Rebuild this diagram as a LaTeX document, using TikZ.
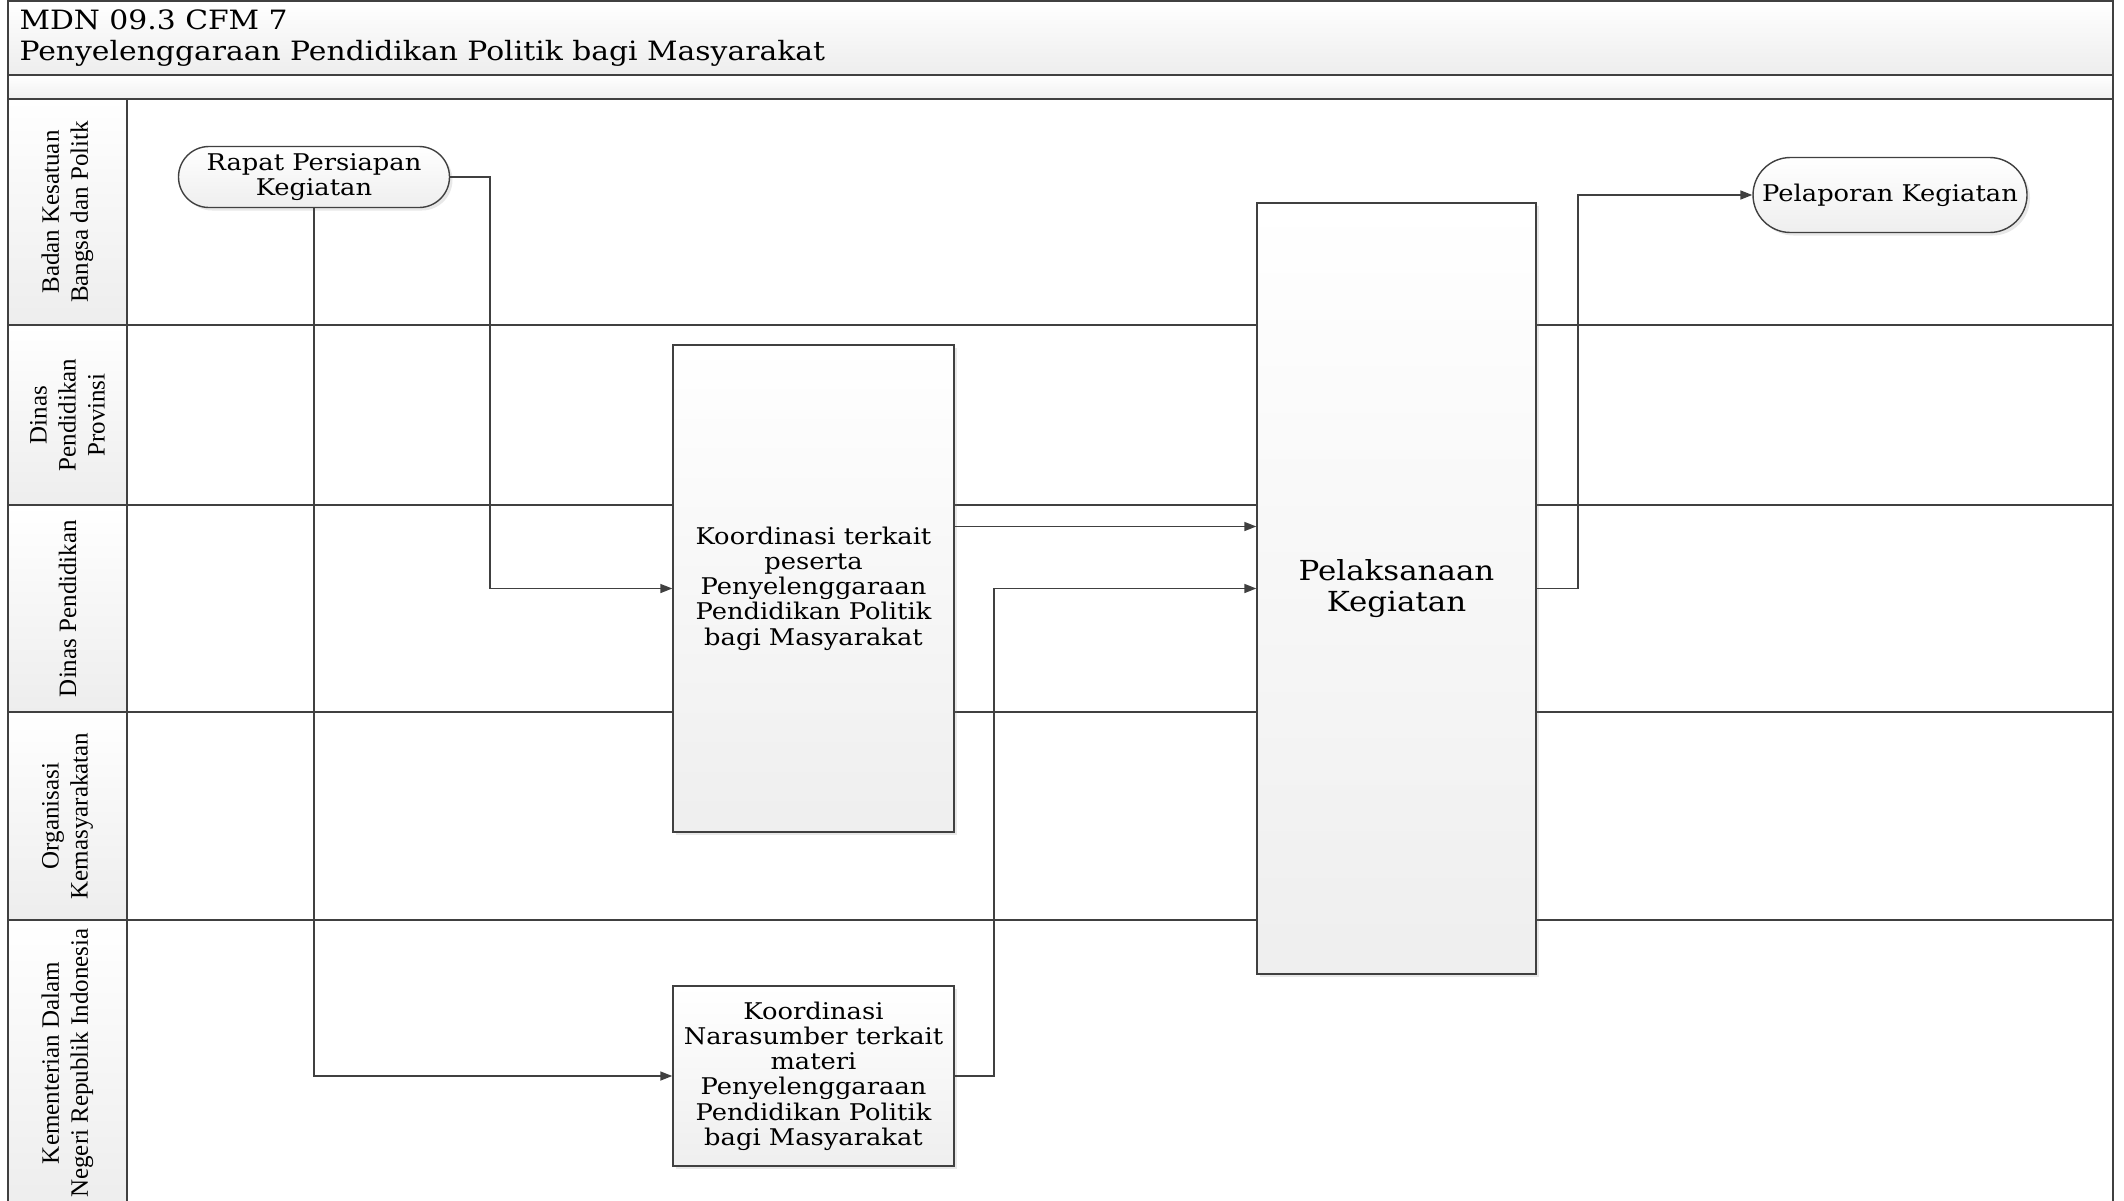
\documentclass[tikz,border=0pt]{standalone}
\usepackage{fontspec}
\setmainfont{DejaVu Serif}
\newfontfamily\boxfont[FakeStretch=1.12]{DejaVu Serif}
\newfontfamily\lanefont{Liberation Serif}
\usetikzlibrary{arrows.meta,shadows,shapes.misc}

\begin{document}
\begin{tikzpicture}[x=0.5pt,y=-0.5pt,line width=0.9pt,
  ln/.style={draw=black!75},
  lanehead/.style={draw=black!75,top color=white,bottom color=gray!14},
  lanelabel/.style={align=center,rotate=90,font=\lanefont\fontsize{12.5}{14.5}\selectfont},
  proc/.style={draw=black!75,line width=0.7pt,top color=white,bottom color=gray!13,
    drop shadow={shadow xshift=1.5pt,shadow yshift=-1.5pt,opacity=0.18},
    align=center,inner sep=2pt,font=\boxfont\fontsize{11.5}{12.6}\selectfont},
  term/.style={proc,rounded rectangle},
  flow/.style={draw=black!75,line width=0.8pt,-{Triangle[length=6pt,width=4.5pt]}}]
\path[use as bounding box] (0,0) rectangle (2124,1200);
\draw[ln,top color=white,bottom color=gray!14] (8,1) rectangle (2113,75);
\draw[ln,top color=white,bottom color=gray!12] (8,75) rectangle (2113,99);
\node[anchor=west,align=left,font=\boxfont\fontsize{13.3}{15.5}\selectfont] (title) at (12,38) {MDN 09.3 CFM 7\\Penyelenggaraan Pendidikan Politik bagi Masyarakat};
\foreach \ya/\yb/\txt [count=\i] in {99/325/{Badan Kesatuan\\Bangsa dan Politk},325/505/{Dinas\\Pendidikan\\Provinsi},505/712/{Dinas Pendidikan},712/920/{Organisasi\\Kemasyarakatan},920/1206/{Kementerian Dalam\\Negeri Republik Indonesia}} {
  \draw[ln] (8,\yb) -- (2113,\yb);
  \draw[lanehead] (8,\ya) rectangle (127,\yb);
  \node[lanelabel] (lane\i) at (67.5,{(\ya+\yb)/2}) {\txt};
}
\draw[ln] (8,1) rectangle (2113,1206);
\node[term,minimum width=139.5pt,minimum height=30.5pt] (rapat) at (314,177) {Rapat Persiapan\\Kegiatan};
\node[term,minimum width=141pt,minimum height=37.5pt] (pelaporan) at (1890,195) {Pelaporan Kegiatan};
\node[proc,minimum width=140.5pt,minimum height=243.5pt] (peserta) at (813.5,588.5) {Koordinasi terkait\\peserta\\Penyelenggaraan\\Pendidikan Politik\\bagi Masyarakat};
\node[proc,minimum width=139.5pt,minimum height=385.5pt,font=\boxfont\fontsize{13.8}{15.3}\selectfont] (pelaksanaan) at (1396.5,588.5) {Pelaksanaan\\Kegiatan};
\node[proc,minimum width=140.5pt,minimum height=90pt] (narasumber) at (813.5,1076) {Koordinasi\\Narasumber terkait\\materi\\Penyelenggaraan\\Pendidikan Politik\\bagi Masyarakat};
\draw[flow] (rapat.east) -- ++(40,0) |- (peserta.west);
\draw[flow] (rapat.south) |- (narasumber.west);
\draw[flow] ([yshift=31pt]peserta.east) -- ([yshift=31pt]pelaksanaan.west);
\draw[flow] (narasumber.east) -- ++(39,0) |- (pelaksanaan.west);
\draw[flow] (pelaksanaan.east) -- ++(41,0) |- (pelaporan.west);
\end{tikzpicture}
\end{document}
